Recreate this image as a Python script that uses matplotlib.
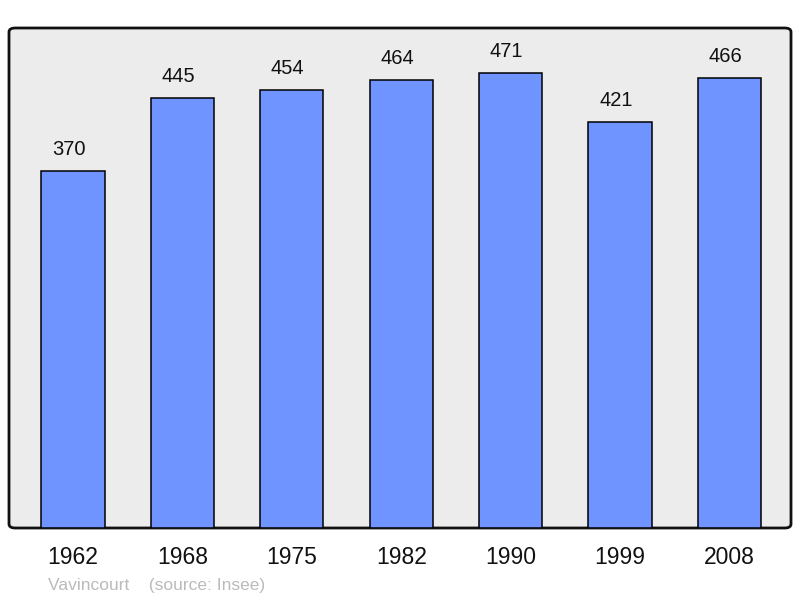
import matplotlib.pyplot as plt
from matplotlib.patches import FancyBboxPatch

# data
years = ["1962", "1968", "1975", "1982", "1990", "1999", "2008"]
population = [370, 445, 454, 464, 471, 421, 466]

plt.rcParams['font.family'] = ['Liberation Sans', 'DejaVu Sans']

fig = plt.figure(figsize=(8, 5.98), dpi=100)
ax = fig.add_axes([9 / 800, 1 - 528 / 598, 782 / 800, 500 / 598])
ax.set_facecolor('none')

# rounded grey panel
panel = FancyBboxPatch((0, 0), 1, 1, boxstyle="round,pad=0,rounding_size=0.008",
                       transform=ax.transAxes, facecolor='#ececec',
                       edgecolor='#111111', linewidth=2, zorder=0, clip_on=False)
ax.add_patch(panel)

x = list(range(len(years)))
ax.bar(x, population, width=0.576, color='#7094ff', edgecolor='black',
       linewidth=1.1, zorder=2)

# value labels, sitting a bit left of the bar centre like the original
for xi, v in zip(x, population):
    ax.annotate(str(v), (xi, v), xytext=(-4, 16), textcoords='offset pixels',
                ha='center', va='baseline', fontsize=14.5, color='#111111')

ax.set_xlim(-0.585, 6.563)
ax.set_ylim(0, 518)
ax.set_yticks([])
ax.set_xticks(x)
ax.set_xticklabels(years, fontsize=16.5, color='#111111')
ax.tick_params(axis='x', length=0, pad=13)
for s in ax.spines.values():
    s.set_visible(False)

fig.text(48 / 800, 1 - 590 / 598, "Vavincourt    (source: Insee)",
         fontsize=12.5, color='#bbbbbb', ha='left', va='baseline')

fig.savefig("out.png", dpi=100)
